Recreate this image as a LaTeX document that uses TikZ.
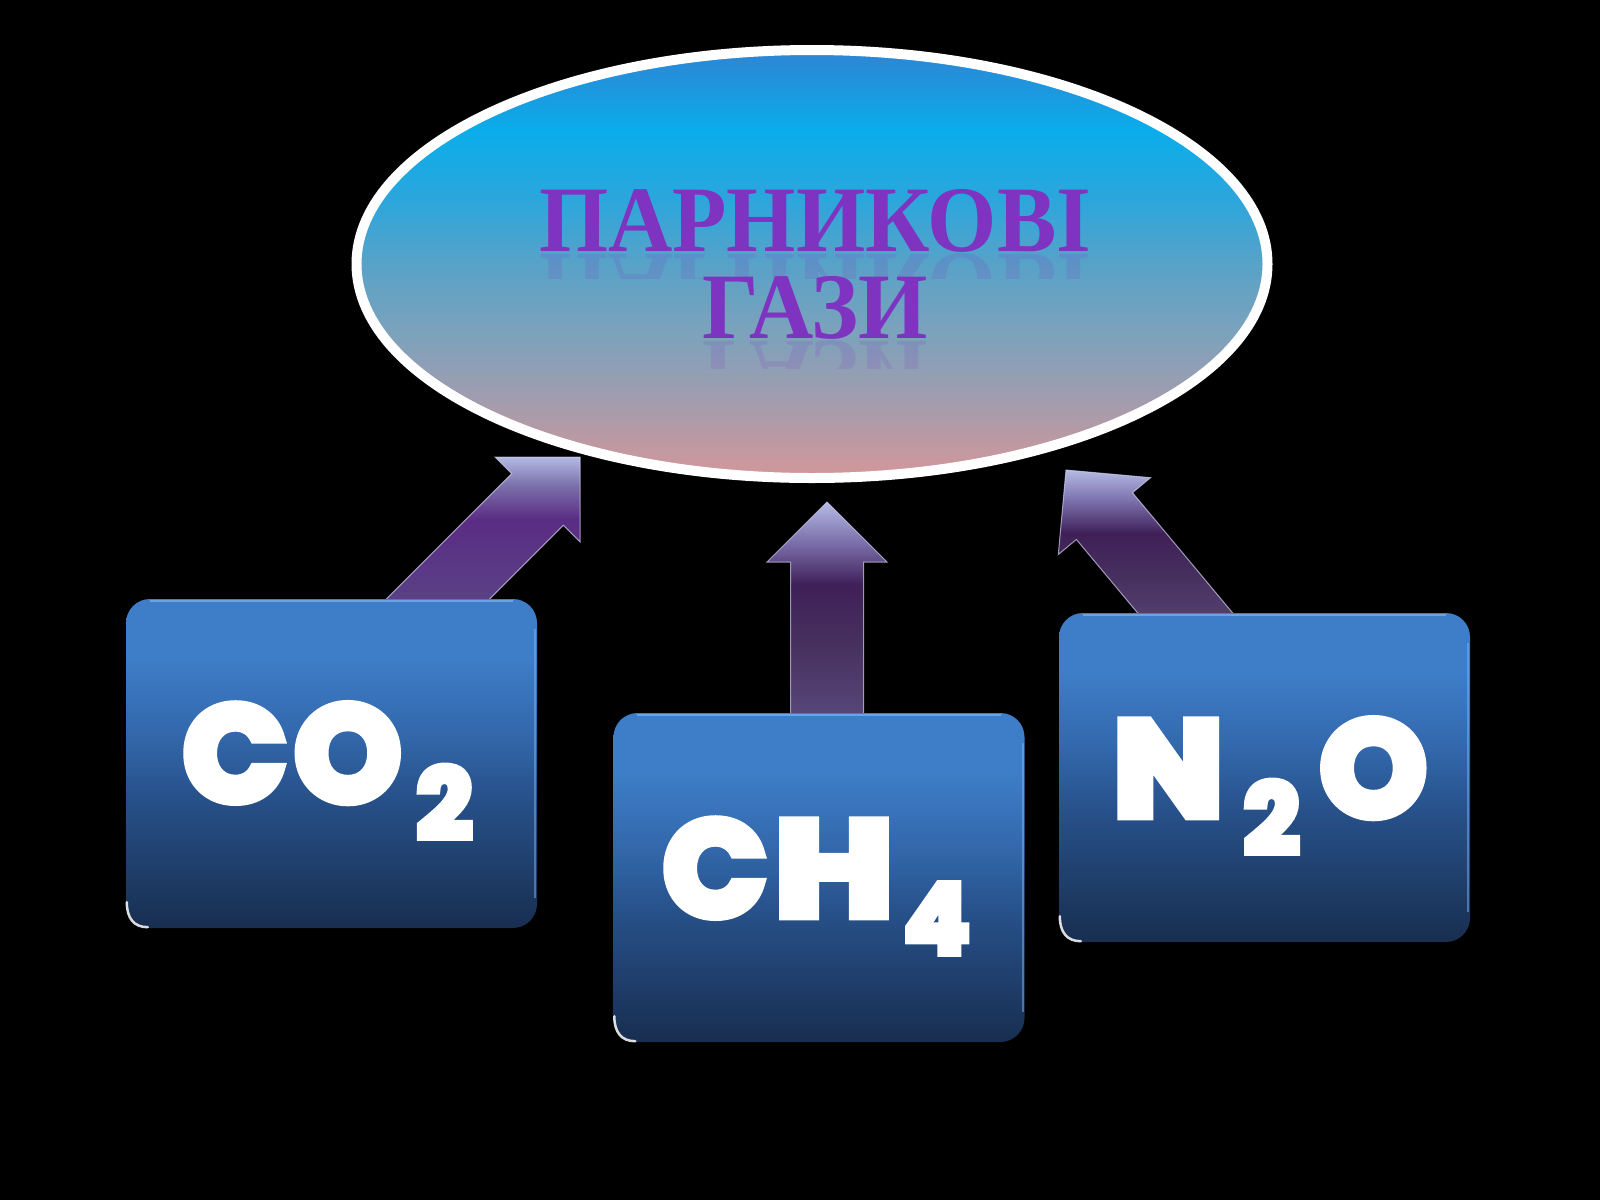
\documentclass[tikz,border=0pt]{standalone}
\usepackage{fontspec}
\newfontfamily\titlefont{Liberation Serif}
\newfontfamily\chemfont{Poppins}[BoldFeatures={FakeBold=8}]
\usetikzlibrary{calc,shapes.geometric}

\definecolor{eTop}{HTML}{2E84D4}
\definecolor{eCyan}{HTML}{0AADEA}
\definecolor{eSky}{HTML}{2CA6DC}
\definecolor{eMid}{HTML}{58A2C8}
\definecolor{eSteel}{HTML}{7CA2BC}
\definecolor{eMauve}{HTML}{A29CAE}
\definecolor{ePink}{HTML}{D49799}
\definecolor{bTop}{HTML}{3E7DC8}
\definecolor{bMid}{HTML}{3369AD}
\definecolor{bMidB}{HTML}{27518A}
\definecolor{bBot}{HTML}{182E50}
\definecolor{bHi}{HTML}{7FB4F0}
\definecolor{aTip}{HTML}{B4BAE4}
\definecolor{aLight}{HTML}{7A6EAA}
\definecolor{aDark}{HTML}{3F2058}
\definecolor{aDarkB}{HTML}{5A2C84}
\definecolor{aMid}{HTML}{47315F}
\definecolor{aMidB}{HTML}{5A3A86}
\definecolor{aBot}{HTML}{5C4C80}
\definecolor{aEdge}{HTML}{D2D0EE}
\definecolor{titlepurple}{HTML}{7E34C0}

\pgfdeclareverticalshading{ellshade}{100bp}{color(0bp)=(ePink); color(25bp)=(ePink); color(34bp)=(eMauve); color(42bp)=(eSteel); color(50bp)=(eMid); color(57.5bp)=(eSky); color(65.6bp)=(eCyan); color(75bp)=(eTop); color(100bp)=(eTop)}
\pgfdeclareverticalshading{boxshade}{100bp}{color(0bp)=(bBot); color(25bp)=(bBot); color(45bp)=(bMidB); color(55bp)=(bMid); color(66bp)=(bTop); color(75bp)=(bTop); color(100bp)=(bTop)}
\pgfdeclareverticalshading{arrshade}{100bp}{color(0bp)=(aBot); color(25bp)=(aBot); color(30bp)=(aBot); color(47bp)=(aMid); color(59bp)=(aDark); color(67bp)=(aLight); color(75bp)=(aTip); color(100bp)=(aTip)}
\pgfdeclareverticalshading{arrshadeB}{100bp}{color(0bp)=(aBot); color(25bp)=(aBot); color(30bp)=(aBot); color(47bp)=(aMidB); color(60bp)=(aDarkB); color(68bp)=(aLight); color(75bp)=(aTip); color(100bp)=(aTip)}

\tikzset{
  gasbox/.style={rectangle, rounded corners=24pt, minimum width=411pt, minimum height=329pt,
    inner sep=0pt, shade, shading=boxshade},
  boxhl/.style={draw=bHi, line width=2pt, opacity=.7},
  cornerhl/.style={draw=white, line width=2.5pt, opacity=.85, line cap=round},
  chem/.style={text=white, inner sep=0pt, font=\chemfont\bfseries\fontsize{133}{133}\selectfont},
  titletext/.style={text=titlepurple, inner sep=0pt, xscale=.95, transform shape,
    font=\titlefont\bfseries\fontsize{93.7}{100}\selectfont},
  reflect/.style={titletext, yscale=-1, opacity=.15},
  arrowbody/.style={draw=aEdge, line width=1pt, line join=miter, draw opacity=.7}
}
\newcommand{\chemsub}[1]{\raisebox{-38pt}{\fontsize{96}{96}\selectfont #1}}
\newcommand{\blockarrow}[4]{%
  \coordinate (#4h) at ($(#2)!60pt!(#1)$);
  \shade[arrowbody, shading=#3]
    ($(#1)!36.5pt!90:(#2)$) -- ($(#4h)!36.5pt!90:(#2)$) -- ($(#4h)!60pt!90:(#2)$) --
    (#2) -- ($(#4h)!60pt!-90:(#2)$) -- ($(#4h)!36.5pt!-90:(#2)$) --
    ($(#1)!36.5pt!-90:(#2)$) -- cycle;
}

\begin{document}
\begin{tikzpicture}[x=1pt, y=-1pt]
\fill[black] (0,0) rectangle (1600,1200);
\useasboundingbox (0,0) rectangle (1600,1200);

% arrows (behind boxes and ellipse)
\coordinate (a1tail) at (397,640);
\coordinate (a1tip) at (580,457);
\coordinate (a2tail) at (827,760);
\coordinate (a2tip) at (827,502);
\coordinate (a3tail) at (1211,644);
\coordinate (a3tip) at (1066,470);
\blockarrow{a1tail}{a1tip}{arrshadeB}{a1}
\blockarrow{a2tail}{a2tip}{arrshade}{a2}
\blockarrow{a3tail}{a3tip}{arrshade}{a3}

% ellipse
\node[ellipse, minimum width=911pt, minimum height=428pt, inner sep=0pt,
      draw=white, line width=10pt, shade, shading=ellshade] (gases) at (812,264) {};

% title with reflection
\begin{scope}
  \clip (480,253) rectangle (1140,278);
  \node[reflect, anchor=base] (title1r) at (815,254) {ПАРНИКОВІ};
\end{scope}
\begin{scope}
  \clip (600,340) rectangle (1040,368);
  \node[reflect, anchor=base] (title2r) at (815,341) {ГАЗИ};
\end{scope}
\node[titletext, anchor=base] (title1) at (815,251) {ПАРНИКОВІ};
\node[titletext, anchor=base] (title2) at (815,338) {ГАЗИ};

% boxes
\foreach \nm/\cx/\cy in {co2box/331.5/763.5, ch4box/819/877.5, n2obox/1264.5/777.5}{
  \node[gasbox] (\nm) at (\cx,\cy) {};
  \draw[boxhl] ([xshift=24pt,yshift=-2pt]\nm.north west) -- ([xshift=-24pt,yshift=-2pt]\nm.north east);
  \draw[boxhl, opacity=.5] ([xshift=-2pt,yshift=-30pt]\nm.north east) -- ([xshift=-2pt,yshift=30pt]\nm.south east);
  \draw[cornerhl] ([yshift=26pt,xshift=1pt]\nm.south west) .. controls ([yshift=10pt,xshift=1pt]\nm.south west) and ([xshift=8pt,yshift=1pt]\nm.south west) .. ([xshift=22pt,yshift=1pt]\nm.south west);
}

% formulas
\node[chem, anchor=base west] (co2txt) at (184,800) {C\kern10pt O\kern17pt\chemsub{2}};
\node[chem, anchor=base west] (ch4txt) at (664,915) {C\kern10pt \scalebox{1.2}[1]{H}\kern12pt\chemsub{4}};
\node[chem, anchor=base west] (n2otxt) at (1114,815) {\scalebox{1.08}[1]{N}\kern22pt\chemsub{2}\kern22pt O};
\end{tikzpicture}
\end{document}
